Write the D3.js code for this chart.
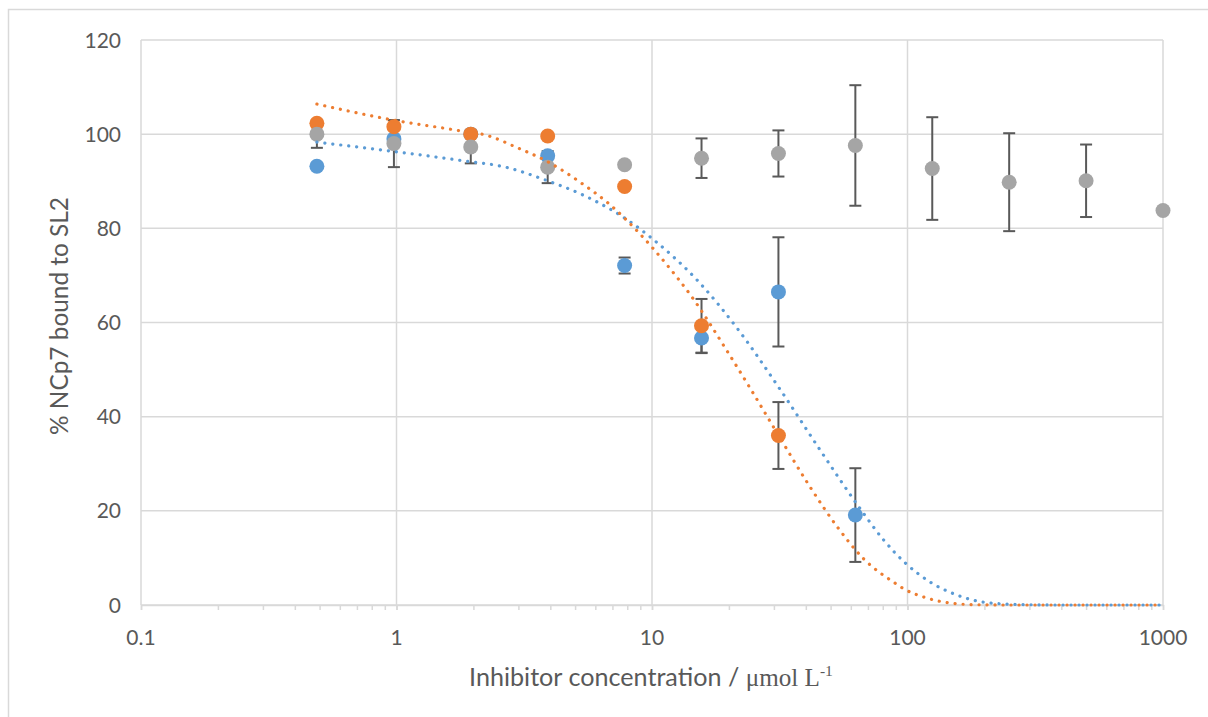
<!DOCTYPE html>
<html>
<head>
<meta charset="utf-8">
<script src="https://cdn.jsdelivr.net/npm/d3@7"></script>
<style>
  html, body { margin: 0; padding: 0; background: #fff; }
  svg { display: block; }
</style>
</head>
<body>
<svg id="chart" width="1208" height="717"></svg>
<script>
// Inhibitor concentrations (µmol/L), two-fold dilution series
const concentrations = [0.488, 0.977, 1.953, 3.906, 7.813, 15.625, 31.25, 62.5, 125, 250, 500, 1000];

// Series 1 (blue): measured % bound and error
const blueValues = [93.2, 99.0, 100.0, 95.4, 72.1, 56.7, 66.5, 19.1];
const blueErrors = [0, 0, 0, 0, 1.7, 3.2, 11.6, 9.95];

// Series 2 (orange)
const orangeValues = [102.3, 101.6, 100.0, 99.6, 88.9, 59.3, 36.0];
const orangeErrors = [0, 0, 0, 0, 0, 5.7, 7.1];

// Series 3 (grey)
const greyValues = [100.0, 98.0, 97.3, 93.0, 93.5, 94.9, 95.9, 97.6, 92.7, 89.8, 90.1, 83.8];
const greyErrors = [2.9, 5.0, 3.5, 3.4, 0, 4.2, 4.9, 12.8, 10.9, 10.4, 7.7, 0];

// Fitted dose-response curves (dotted)
const blueFitX = [0.488, 0.949, 1.85, 2.67, 3.81, 5.36, 6.15, 7.91, 10.03, 15.5, 21.6, 31.8, 45.9, 64.6, 80.4, 98.6, 125, 153, 189, 219, 276, 400, 1000];
const blueFitY = [98.3, 96.4, 94.3, 93.0, 90.3, 87.1, 85.5, 82.0, 77.8, 68.2, 58.7, 45.7, 32.6, 20.8, 13.9, 8.8, 4.6, 2.3, 0.8, 0.35, 0.1, 0, 0];
const orangeFitX = [0.488, 0.97, 1.69, 2.27, 2.98, 3.89, 5.36, 6.79, 8.87, 11.34, 14.25, 19.7, 24.0, 31.3, 41.3, 53.1, 67.1, 90.2, 96.3, 117.8, 147.6, 183.7, 250, 1000];
const orangeFitY = [106.4, 103.0, 100.9, 99.7, 97.1, 94.2, 89.4, 85.2, 79.1, 72.5, 65.6, 53.9, 46.4, 36.0, 25.3, 16.6, 9.9, 4.5, 3.5, 1.55, 0.4, 0.07, 0, 0];

const xTicks = [0.1, 1, 10, 100, 1000];
const xTickLabels = ["0.1", "1", "10", "100", "1000"];
const yTicks = [0, 20, 40, 60, 80, 100, 120];

const colors = { blue: "#5B9BD5", orange: "#ED7D31", grey: "#A5A5A5" };
const gridColor = "#d9d9d9";
const textColor = "#595959";
const errColor = "#595959";
const sans = "Lato, 'Open Sans', sans-serif";
const serif = "'Liberation Serif', 'DejaVu Serif', serif";

const svg = d3.select("#chart");

// Chart frame
svg.append("rect")
  .attr("x", 8.5).attr("y", 9.5)
  .attr("width", 1220).attr("height", 730)
  .attr("fill", "#fff").attr("stroke", gridColor).attr("stroke-width", 1.5);

const x = d3.scaleLog().domain([0.1, 1000]).range([141, 1163]);
const y = d3.scaleLinear().domain([0, 120]).range([605, 40]);

// Horizontal gridlines
svg.append("g").selectAll("line").data(yTicks).join("line")
  .attr("x1", x(0.1)).attr("x2", x(1000))
  .attr("y1", d => y(d)).attr("y2", d => y(d))
  .attr("stroke", gridColor).attr("stroke-width", 1.5);

// Vertical gridlines at decades
svg.append("g").selectAll("line").data(xTicks).join("line")
  .attr("x1", d => x(d)).attr("x2", d => x(d))
  .attr("y1", y(120)).attr("y2", y(0))
  .attr("stroke", gridColor).attr("stroke-width", 1.5);

// X axis with minor log ticks
const minorTicks = [];
for (let dec = 0.1; dec < 1000; dec *= 10) {
  for (let k = 1; k <= 10; k++) minorTicks.push(+(dec * k).toPrecision(6));
}
const xAxis = d3.axisBottom(x)
  .tickValues(minorTicks)
  .tickSize(5)
  .tickFormat("");
const gx = svg.append("g").attr("transform", `translate(0,${y(0)})`).call(xAxis);
gx.select(".domain").attr("stroke", gridColor).attr("stroke-width", 1.5);
gx.selectAll(".tick line").attr("stroke", gridColor).attr("stroke-width", 1.5);

// X tick labels
svg.append("g").selectAll("text").data(xTicks).join("text")
  .attr("x", d => x(d)).attr("y", 645)
  .attr("text-anchor", "middle")
  .attr("font-family", sans)
  .attr("font-size", 21).attr("fill", textColor)
  .text((d, i) => xTickLabels[i]);

// Y tick labels
svg.append("g").selectAll("text").data(yTicks).join("text")
  .attr("x", 121).attr("y", d => y(d) + 7.5)
  .attr("text-anchor", "end")
  .attr("font-family", sans)
  .attr("font-size", 21).attr("fill", textColor)
  .text(d => d);

// Scale a text element's font so its rendered length equals `width`
function fitFont(sel, baseSize, width) {
  const len = sel.node().getComputedTextLength();
  const size = baseSize * width / len;
  sel.attr("font-size", size);
  sel.selectAll("tspan").each(function () {
    const t = d3.select(this);
    const rel = +t.attr("data-rel") || 1;
    t.attr("font-size", size * rel);
    if (t.attr("data-dy")) t.attr("dy", +t.attr("data-dy") * size);
  });
  return size;
}

// Axis titles
const yt = svg.append("text")
  .attr("transform", `translate(68,316) rotate(-90)`)
  .attr("text-anchor", "middle")
  .attr("font-family", sans)
  .attr("font-size", 20).attr("fill", textColor)
  .text("% NCp7 bound to SL2");
fitFont(yt, 20, 238);

const xt = svg.append("text")
  .attr("x", 651).attr("y", 686)
  .attr("text-anchor", "middle")
  .attr("font-size", 20).attr("fill", textColor);
xt.append("tspan").attr("font-family", sans).text("Inhibitor concentration / ");
xt.append("tspan").attr("font-family", serif).text("\u03bcmol L");
xt.append("tspan").attr("font-family", serif)
  .attr("data-rel", 0.62).attr("data-dy", -0.4)
  .attr("font-size", 12.4).attr("dy", -8).text("-1");
fitFont(xt, 20, 364);

// Build point records for each series
function points(values, errors) {
  return values.map((v, i) => ({ c: concentrations[i], v: v, e: errors[i] }));
}
const series = [
  { key: "blue", pts: points(blueValues, blueErrors) },
  { key: "orange", pts: points(orangeValues, orangeErrors) },
  { key: "grey", pts: points(greyValues, greyErrors) }
];

// Error bars
const capHalf = 6;
series.forEach(s => {
  const g = svg.append("g").attr("stroke", errColor).attr("stroke-width", 2);
  const withErr = s.pts.filter(p => p.e > 0);
  g.selectAll("line.stem").data(withErr).join("line").attr("class", "stem")
    .attr("x1", p => x(p.c)).attr("x2", p => x(p.c))
    .attr("y1", p => y(p.v + p.e)).attr("y2", p => y(p.v - p.e));
  g.selectAll("line.top").data(withErr).join("line").attr("class", "top")
    .attr("x1", p => x(p.c) - capHalf).attr("x2", p => x(p.c) + capHalf)
    .attr("y1", p => y(p.v + p.e)).attr("y2", p => y(p.v + p.e));
  g.selectAll("line.bot").data(withErr).join("line").attr("class", "bot")
    .attr("x1", p => x(p.c) - capHalf).attr("x2", p => x(p.c) + capHalf)
    .attr("y1", p => y(p.v - p.e)).attr("y2", p => y(p.v - p.e));
});

// Markers
series.forEach(s => {
  svg.append("g").selectAll("circle").data(s.pts).join("circle")
    .attr("cx", p => x(p.c)).attr("cy", p => y(p.v))
    .attr("r", 7.5).attr("fill", colors[s.key]);
});

// Dotted fit curves
const fitLine = d3.line()
  .x(d => x(d[0])).y(d => y(d[1]))
  .curve(d3.curveMonotoneX);
[
  { key: "blue", xs: blueFitX, ys: blueFitY },
  { key: "orange", xs: orangeFitX, ys: orangeFitY }
].forEach(f => {
  svg.append("path")
    .datum(f.xs.map((c, i) => [c, f.ys[i]]))
    .attr("d", fitLine)
    .attr("fill", "none")
    .attr("stroke", colors[f.key])
    .attr("stroke-width", 3.2)
    .attr("stroke-linecap", "round")
    .attr("stroke-dasharray", "0.1 7.9");
});
</script>
</body>
</html>
